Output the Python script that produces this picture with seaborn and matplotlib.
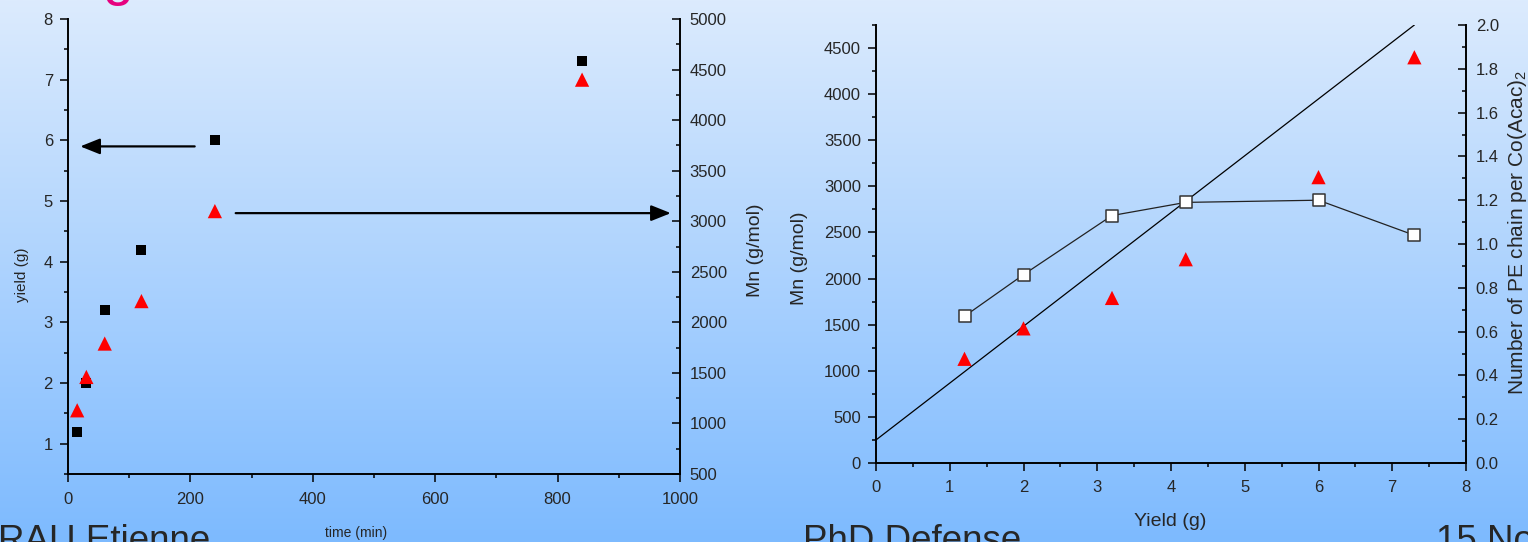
import numpy as np
import seaborn as sns
import matplotlib.pyplot as plt
import matplotlib.ticker as mticker

# dados
tempo_min = [15, 30, 60, 120, 240, 840]
rendimento_g = [1.2, 2.0, 3.2, 4.2, 6.0, 7.3]
mn_gmol = [1130, 1460, 1790, 2210, 3100, 4400]
cadeias_por_co = [0.67, 0.86, 1.13, 1.19, 1.20, 1.04]

# reta teórica (Mn x rendimento)
teoria_x = [0, 7.3]
teoria_y = [250, 4750]

# setas do gráfico da esquerda (início, fim) em coordenadas de dados
seta_esq = [(207, 5.9), (20, 5.9)]
seta_dir = [(274, 4.8), (985, 4.8)]

sns.set_theme(style="ticks")
plt.rcParams["font.family"] = ["Liberation Sans", "DejaVu Sans"]
plt.rcParams["mathtext.fontset"] = "custom"
plt.rcParams["mathtext.rm"] = "Liberation Sans"

fig = plt.figure(figsize=(15.28, 5.42), dpi=100)

# fundo em degradê (slide)
bg = fig.add_axes([0, 0, 1, 1], zorder=-10)
topo = np.array([220, 235, 253]) / 255
base = np.array([125, 186, 255]) / 255
t = np.linspace(0, 1, 256)[:, None]
grad = topo[None, :] * (1 - t) + base[None, :] * t
bg.imshow(grad[:, None, :], aspect="auto", extent=[0, 1, 0, 1])
bg.set_axis_off()


def estilo(ax, lado):
    ax.set_facecolor("none")
    for s in ax.spines.values():
        s.set_linewidth(1.4)
        s.set_color("black")
    ax.spines["top"].set_visible(False)
    if lado == "esq":
        ax.spines["right"].set_visible(False)
        ax.tick_params(which="major", length=5.8, width=1.1, labelsize=12, pad=5, color="black")
        ax.tick_params(which="minor", length=3, width=1.1, color="black")
        ax.tick_params(axis="x", pad=7)
    else:
        ax.spines["left"].set_visible(False)
        ax.spines["bottom"].set_visible(False)
        ax.tick_params(axis="y", which="major", direction="in", length=5.8, width=1.1,
                       labelsize=12, pad=7, color="black")
        ax.tick_params(axis="y", which="minor", direction="in", length=3, width=1.1, color="black")


def rotulo(eixo, x, y):
    # posiciona o centro do rótulo no ponto dado (coordenadas do eixo)
    eixo.set_label_coords(x, y)
    eixo.label.set_verticalalignment("center")
    eixo.label.set_horizontalalignment("center")


# ======== Gráfico da esquerda ========
ax1 = fig.add_axes([68 / 1528, 68 / 542, 612 / 1528, 455 / 542])
ax1b = ax1.twinx()
estilo(ax1, "esq")
estilo(ax1b, "dir")

sns.scatterplot(x=tempo_min, y=rendimento_g, ax=ax1, marker="s", s=52,
                color="black", edgecolor="none", zorder=5, clip_on=False)
sns.scatterplot(x=tempo_min, y=mn_gmol, ax=ax1b, marker="^", s=105,
                color="red", edgecolor="none", zorder=5, clip_on=False)

ax1.set_xlim(0, 1000)
ax1.set_ylim(0.5, 8)
ax1b.set_ylim(500, 5000)
ax1.xaxis.set_major_locator(mticker.MultipleLocator(200))
ax1.xaxis.set_minor_locator(mticker.MultipleLocator(100))
ax1.yaxis.set_major_locator(mticker.MultipleLocator(1))
ax1.yaxis.set_minor_locator(mticker.MultipleLocator(0.5))
ax1b.yaxis.set_major_locator(mticker.MultipleLocator(500))
ax1b.yaxis.set_minor_locator(mticker.MultipleLocator(250))

ax1.set_xlabel("time (min)", fontsize=10)
ax1.set_ylabel("yield (g)", fontsize=11)
ax1b.set_ylabel("Mn (g/mol)", fontsize=14)
rotulo(ax1.xaxis, 0.47, -0.13)
rotulo(ax1.yaxis, -0.075, 0.437)
rotulo(ax1b.yaxis, 1.124, 0.492)

for (x0, y0), (x1, y1) in [seta_esq, seta_dir]:
    ax1.annotate("", xy=(x1, y1), xytext=(x0, y0),
                 arrowprops=dict(arrowstyle="-|>,head_length=1.0,head_width=0.4",
                                 color="black", lw=1.6, shrinkA=0, shrinkB=0))

# ======== Gráfico da direita ========
ax2 = fig.add_axes([876 / 1528, 79 / 542, 590 / 1528, 438 / 542])
ax2b = ax2.twinx()
estilo(ax2, "esq")
estilo(ax2b, "dir")

sns.lineplot(x=teoria_x, y=teoria_y, ax=ax2, color="black", linewidth=0.9)
sns.scatterplot(x=rendimento_g, y=mn_gmol, ax=ax2, marker="^", s=105,
                color="red", edgecolor="none", zorder=5)
sns.lineplot(x=rendimento_g, y=cadeias_por_co, ax=ax2b, color="#222222",
             linewidth=0.9, zorder=4)
sns.scatterplot(x=rendimento_g, y=cadeias_por_co, ax=ax2b, marker="s", s=64,
                color="white", edgecolor="#333333", linewidth=1.1, zorder=5)

ax2.set_xlim(0, 8)
ax2.set_ylim(0, 4750)
ax2b.set_ylim(0, 2.0)
ax2.xaxis.set_major_locator(mticker.MultipleLocator(1))
ax2.xaxis.set_minor_locator(mticker.MultipleLocator(0.5))
ax2.yaxis.set_major_locator(mticker.MultipleLocator(500))
ax2.yaxis.set_minor_locator(mticker.MultipleLocator(250))
ax2b.yaxis.set_major_locator(mticker.MultipleLocator(0.2))
ax2b.yaxis.set_minor_locator(mticker.MultipleLocator(0.1))
ax2b.yaxis.set_major_formatter(mticker.StrMethodFormatter("{x:.1f}"))
ax2.tick_params(axis="x", pad=6.5)

ax2.set_xlabel("Yield (g)", fontsize=14)
ax2.set_ylabel("Mn (g/mol)", fontsize=14)
ax2b.set_ylabel("Number of PE chain per Co(Acac)$_2$", fontsize=15)
rotulo(ax2.xaxis, 0.498, -0.134)
rotulo(ax2.yaxis, -0.129, 0.468)
rotulo(ax2b.yaxis, 1.088, 0.527)

# textos do slide
fig.text(-2 / 1528, -9 / 542, "RAU Etienne", fontsize=26.5, va="baseline", ha="left")
fig.text(803 / 1528, -9 / 542, "PhD Defense", fontsize=26.5, va="baseline", ha="left")
fig.text(1436 / 1528, -9 / 542, "15 No", fontsize=26.5, va="baseline", ha="left")
fig.text(103 / 1528, 548 / 542, "g", fontsize=40, va="baseline", ha="left", color="#E6007E")

fig.savefig("out.png", dpi=100)
plt.close(fig)
